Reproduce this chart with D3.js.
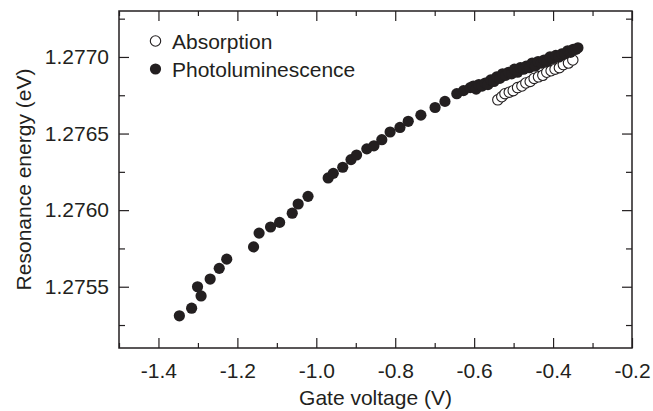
<!DOCTYPE html>
<html>
<head>
<meta charset="utf-8">
<script src="https://cdn.jsdelivr.net/npm/d3@7"></script>
<style>
  html, body { margin: 0; padding: 0; background: #fff; }
  svg { display: block; }
  text { font-family: "Liberation Sans", Arial, Helvetica, sans-serif; fill: #231f20; }
</style>
</head>
<body>
<div id="chart"></div>
<script>
// photoluminescence: gate voltage (V) / resonance energy (eV)
const plVolt = [-1.347, -1.316, -1.301, -1.292, -1.269, -1.246, -1.227, -1.159, -1.145, -1.116,
    -1.093, -1.061, -1.046, -1.021, -0.970, -0.957, -0.933, -0.912, -0.898, -0.872,
    -0.854, -0.834, -0.813, -0.788, -0.767, -0.735, -0.699, -0.674, -0.644, -0.627,
    -0.610, -0.602, -0.595, -0.588, -0.580, -0.572, -0.565, -0.558, -0.550, -0.543,
    -0.535, -0.528, -0.520, -0.513, -0.505, -0.498, -0.490, -0.483, -0.475, -0.468,
    -0.460, -0.453, -0.445, -0.438, -0.430, -0.423, -0.415, -0.408, -0.400, -0.393,
    -0.385, -0.378, -0.370, -0.363, -0.356, -0.349, -0.342, -0.337]
const plEnergy = [1.27531, 1.27536, 1.27550, 1.27544, 1.27555, 1.27562, 1.27568, 1.27576, 1.27585, 1.27589,
    1.27592, 1.27598, 1.27604, 1.27609, 1.27621, 1.27624, 1.27628, 1.27633, 1.27636, 1.27640,
    1.27642, 1.27646, 1.27651, 1.27654, 1.27658, 1.27662, 1.27667, 1.27671, 1.27676, 1.27678,
    1.27680, 1.27681, 1.27679, 1.27682, 1.27681, 1.27683, 1.27682, 1.27685, 1.27684, 1.27687,
    1.27686, 1.27689, 1.27688, 1.27690, 1.27689, 1.27692, 1.27690, 1.27693, 1.27692, 1.27694,
    1.27693, 1.27696, 1.27694, 1.27697, 1.27696, 1.27698, 1.27697, 1.27700, 1.27699, 1.27701,
    1.27700, 1.27702, 1.27702, 1.27704, 1.27703, 1.27705, 1.27705, 1.27706]

// absorption
const absVolt = [-0.540, -0.530, -0.522, -0.511, -0.501, -0.490, -0.479, -0.469, -0.458, -0.448,
    -0.437, -0.426, -0.416, -0.405, -0.395, -0.384, -0.374, -0.361, -0.350]
const absEnergy = [1.27672, 1.27674, 1.27676, 1.27677, 1.27678, 1.27680, 1.27681, 1.27683, 1.27684, 1.27686,
    1.27687, 1.27688, 1.27690, 1.27691, 1.27692, 1.27693, 1.27695, 1.27696, 1.27698]

const xMajor = [-1.4, -1.2, -1.0, -0.8, -0.6, -0.4, -0.2]
const xMinor = [-1.5, -1.3, -1.1, -0.9, -0.7, -0.5, -0.3]
const yMajor = [1.2755, 1.2760, 1.2765, 1.2770]
const yMinor = [1.27525, 1.27575, 1.27625, 1.27675, 1.27725]

const width = 653
const height = 411
const mLeft = 119, mRight = 632, mTop = 11, mBottom = 348
const ink = '#231f20'
const fontSize = 21

const svg = d3.select('#chart').append('svg')
    .attr('width', width)
    .attr('height', height)

const xScale = d3.scaleLinear().domain([-1.5, -0.2]).range([mLeft, mRight])
const yScale = d3.scaleLinear().domain([1.2751, 1.2773]).range([mBottom, mTop])

const styleAxis = g => {
    g.select('.domain').remove()
    g.selectAll('line').attr('stroke', ink).attr('stroke-width', 1.2)
    g.selectAll('text').style('font-size', fontSize + 'px').attr('fill', ink)
}

// bottom
svg.append('g').attr('transform', `translate(0,${mBottom})`)
    .call(d3.axisBottom(xScale).tickValues(xMajor).tickSize(-10).tickPadding(15))
    .call(styleAxis)
    .call(g => g.selectAll('text').text(d => d.toFixed(1)))
svg.append('g').attr('transform', `translate(0,${mBottom})`)
    .call(d3.axisBottom(xScale).tickValues(xMinor).tickSize(-5).tickFormat(''))
    .call(styleAxis)
// top
svg.append('g').attr('transform', `translate(0,${mTop})`)
    .call(d3.axisTop(xScale).tickValues(xMajor).tickSize(-10).tickFormat(''))
    .call(styleAxis)
svg.append('g').attr('transform', `translate(0,${mTop})`)
    .call(d3.axisTop(xScale).tickValues(xMinor).tickSize(-5).tickFormat(''))
    .call(styleAxis)
// left
svg.append('g').attr('transform', `translate(${mLeft},0)`)
    .call(d3.axisLeft(yScale).tickValues(yMajor).tickSize(-10).tickPadding(10).tickFormat(d3.format('.4f')))
    .call(styleAxis)
svg.append('g').attr('transform', `translate(${mLeft},0)`)
    .call(d3.axisLeft(yScale).tickValues(yMinor).tickSize(-6).tickFormat(''))
    .call(styleAxis)
// right
svg.append('g').attr('transform', `translate(${mRight},0)`)
    .call(d3.axisRight(yScale).tickValues(yMajor).tickSize(-10).tickFormat(''))
    .call(styleAxis)
svg.append('g').attr('transform', `translate(${mRight},0)`)
    .call(d3.axisRight(yScale).tickValues(yMinor).tickSize(-6).tickFormat(''))
    .call(styleAxis)

svg.append('rect')
    .attr('x', mLeft).attr('y', mTop)
    .attr('width', mRight - mLeft).attr('height', mBottom - mTop)
    .attr('fill', 'none').attr('stroke', ink).attr('stroke-width', 1.5)

// axis titles
svg.append('text')
    .attr('x', (mLeft + mRight) / 2).attr('y', 405)
    .attr('text-anchor', 'middle')
    .style('font-size', fontSize + 'px')
    .text('Gate voltage (V)')
svg.append('text')
    .attr('transform', `translate(31,${(mTop + mBottom) / 2}) rotate(-90)`)
    .attr('text-anchor', 'middle')
    .style('font-size', fontSize + 'px')
    .text('Resonance energy (eV)')

// points
const absData = absVolt.map((v, i) => ({v, e: absEnergy[i]}))
const plData = plVolt.map((v, i) => ({v, e: plEnergy[i]}))

svg.append('g')
    .selectAll('circle')
    .data(absData)
    .join('circle')
    .attr('cx', d => xScale(d.v))
    .attr('cy', d => yScale(d.e))
    .attr('r', 5.2)
    .attr('fill', '#fff')
    .attr('stroke', ink)
    .attr('stroke-width', 1.1)

svg.append('g')
    .selectAll('circle')
    .data(plData)
    .join('circle')
    .attr('cx', d => xScale(d.v))
    .attr('cy', d => yScale(d.e))
    .attr('r', 5.6)
    .attr('fill', ink)

// legend
const legend = svg.append('g')
legend.append('circle').attr('cx', 155.5).attr('cy', 41).attr('r', 5.2)
    .attr('fill', '#fff').attr('stroke', ink).attr('stroke-width', 1.1)
legend.append('text').attr('x', 172).attr('y', 48.5)
    .style('font-size', fontSize + 'px').text('Absorption')
legend.append('circle').attr('cx', 155.5).attr('cy', 69).attr('r', 5.6)
    .attr('fill', ink)
legend.append('text').attr('x', 172).attr('y', 76.5)
    .style('font-size', fontSize + 'px').text('Photoluminescence')
</script>
</body>
</html>
